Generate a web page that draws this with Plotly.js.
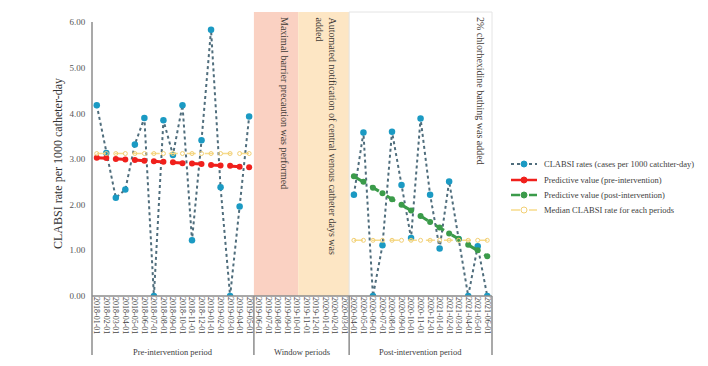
<!DOCTYPE html>
<html>
<head>
<meta charset="utf-8">
<script src="https://cdn.plot.ly/plotly-3.0.1.min.js"></script>
<style>
  html, body { margin: 0; padding: 0; background: #ffffff; }
  #chart { width: 708px; height: 366px; }
</style>
</head>
<body>
<div id="chart"></div>
<script>
// ---------- data ----------
const preMonths = ["2018-01-01","2018-02-01","2018-03-01","2018-04-01","2018-05-01","2018-06-01",
  "2018-07-01","2018-08-01","2018-09-01","2018-10-01","2018-11-01","2018-12-01",
  "2019-01-01","2019-02-01","2019-03-01","2019-04-01","2019-05-01"];
const windowMonths = ["2019-06-01","2019-07-01","2019-08-01","2019-09-01","2019-10-01",
  "2019-11-01","2019-12-01","2020-01-01","2020-02-01","2020-03-01"];
const postMonths = ["2020-04-01","2020-05-01","2020-06-01","2020-07-01","2020-08-01",
  "2020-09-01","2020-10-01","2020-11-01","2020-12-01","2021-01-01","2021-02-01",
  "2021-03-01","2021-04-01","2021-05-01","2021-06-01"];

const preRates  = [4.18, 3.13, 2.15, 2.33, 3.32, 3.90, 0.00, 3.85, 3.09, 4.18, 1.22, 3.41, 5.83, 2.38, 0.00, 1.96, 3.93];
const postRates = [2.22, 3.58, 0.00, 1.11, 3.60, 2.43, 1.27, 3.89, 2.22, 1.04, 2.51, 1.25, 0.00, 1.09, 0.00];

const prePredicted  = [3.03, 3.02, 3.00, 2.99, 2.98, 2.96, 2.95, 2.94, 2.93, 2.91, 2.90, 2.89, 2.87, 2.86, 2.85, 2.83, 2.82];
const postPredicted = [2.62, 2.50, 2.37, 2.25, 2.12, 2.00, 1.87, 1.75, 1.62, 1.50, 1.37, 1.25, 1.12, 1.00, 0.87];

const preMedian  = [3.12, 3.12, 3.12, 3.12, 3.12, 3.12, 3.12, 3.12, 3.12, 3.12, 3.12, 3.12, 3.12, 3.12, 3.12, 3.12, 3.12];
const postMedian = [1.22, 1.22, 1.22, 1.22, 1.22, 1.22, 1.22, 1.22, 1.22, 1.22, 1.22, 1.22, 1.22, 1.22, 1.22];

const yTickVals = [0, 1, 2, 3, 4, 5, 6];
const periodLabels = ["Pre-intervention period", "Window periods", "Post-intervention period"];
const legendLabels = ["CLABSI rates (cases per 1000 catchter-day)", "Predictive value (pre-intervention)",
  "Predictive value (post-intervention)", "Median CLABSI rate for each periods"];
const eventLabels = ["Maximal barrier precaution was performed",
  "Automated notification of central venous catheter days was<br>added",
  "2% chlorhexidine bathing was added"];

const allMonths = preMonths.concat(windowMonths, postMonths);

// ---------- styles ----------
const SERIF = "Liberation Serif, Times New Roman, serif";
const rateLine = {color: "#4f6d7c", width: 2, dash: "dot"};
const rateMarker = {color: "#1b9ac3", size: 6.5};
const redC = "#f0201c", greenC = "#3b9b4a", yellowC = "#f7dc8c";
const medMarker = {color: "#f2cf73", size: 4, symbol: "circle-open", line: {width: 1}};

const traces = [
  {x: preMonths, y: preRates, mode: "lines+markers", line: rateLine, marker: rateMarker, showlegend: false},
  {x: postMonths, y: postRates, mode: "lines+markers", line: rateLine, marker: rateMarker, showlegend: false},
  {x: preMonths, y: prePredicted, mode: "lines+markers", line: {color: redC, width: 3, dash: "10px,9px"},
   marker: {color: redC, size: 6}, showlegend: false},
  {x: postMonths, y: postPredicted, mode: "lines+markers", line: {color: greenC, width: 3, dash: "10px,9px"},
   marker: {color: greenC, size: 6}, showlegend: false},
  {x: preMonths, y: preMedian, mode: "lines+markers", line: {color: yellowC, width: 1.5, dash: "dash"},
   marker: medMarker, showlegend: false},
  {x: postMonths, y: postMedian, mode: "lines+markers", line: {color: yellowC, width: 1.5, dash: "dash"},
   marker: medMarker, showlegend: false}
];

// pixel helpers (plot area: x 92..492, y 12..296)
const px = v => (v - 92) / 400;
const py = v => (296 - v) / 284;
const axisC = "#8c8c8c";
const nCat = allMonths.length;

const shapes = [
  {type: "rect", xref: "x", yref: "paper", x0: 16.5, x1: 21.15, y0: 0, y1: 1, fillcolor: "#fad1c2", line: {width: 0}, layer: "below"},
  {type: "rect", xref: "x", yref: "paper", x0: 21.15, x1: 26.5, y0: 0, y1: 1, fillcolor: "#fde6c4", line: {width: 0}, layer: "below"},
  {type: "rect", xref: "paper", yref: "paper", x0: 27 / nCat, x1: 1, y0: 0, y1: 1, line: {color: "#e4e4e4", width: 1}, layer: "below"},
  {type: "line", xref: "paper", yref: "paper", x0: 0, x1: 0, y0: py(355), y1: 6 / 6.22, line: {color: axisC, width: 1.5}},
  {type: "line", xref: "paper", yref: "paper", x0: 0, x1: 1, y0: 0, y1: 0, line: {color: axisC, width: 1.5}},
  {type: "line", xref: "paper", yref: "paper", x0: 17 / nCat, x1: 17 / nCat, y0: py(355), y1: 0, line: {color: axisC, width: 1.5}},
  {type: "line", xref: "paper", yref: "paper", x0: 27 / nCat, x1: 27 / nCat, y0: py(355), y1: 0, line: {color: axisC, width: 1.5}},
  {type: "line", xref: "paper", yref: "paper", x0: 1, x1: 1, y0: py(355), y1: 0, line: {color: axisC, width: 1.5}}
];

const annotations = [
  {text: "CLABSI rate per 1000 catheter-day", textangle: -90, xref: "paper", yref: "paper",
   x: px(58), y: py(164), xanchor: "center", yanchor: "middle", showarrow: false,
   font: {family: SERIF, size: 12, color: "#333333"}},
  {text: periodLabels[0], xref: "paper", yref: "paper", x: 8.5 / nCat, y: py(352), showarrow: false,
   xanchor: "center", yanchor: "middle", font: {family: SERIF, size: 8.5, color: "#404040"}},
  {text: periodLabels[1], xref: "paper", yref: "paper", x: 22 / nCat, y: py(352), showarrow: false,
   xanchor: "center", yanchor: "middle", font: {family: SERIF, size: 8.5, color: "#404040"}},
  {text: periodLabels[2], xref: "paper", yref: "paper", x: 34.5 / nCat, y: py(352), showarrow: false,
   xanchor: "center", yanchor: "middle", font: {family: SERIF, size: 8.5, color: "#404040"}},
  {text: eventLabels[0], textangle: 90, xref: "paper", yref: "paper", x: px(285), y: py(15),
   xanchor: "center", yanchor: "top", showarrow: false, font: {family: SERIF, size: 10, color: "#3f3a36"}},
  {text: eventLabels[1], textangle: 90, align: "left", xref: "paper", yref: "paper", x: px(325.5), y: py(15),
   xanchor: "center", yanchor: "top", showarrow: false, font: {family: SERIF, size: 10, color: "#3f3a36"}},
  {text: eventLabels[2], textangle: 90, xref: "paper", yref: "paper", x: px(481), y: py(15),
   xanchor: "center", yanchor: "top", showarrow: false, font: {family: SERIF, size: 10, color: "#3f3a36"}}
];

// compact legend drawn with shapes and annotations
const legY = [164, 180, 195, 210];
const legStyles = [
  {c: rateLine.color, dash: "dot", w: 2, m: rateMarker.color, open: false},
  {c: redC, dash: "solid", w: 2.5, m: redC, open: false},
  {c: greenC, dash: "dash", w: 2.5, m: greenC, open: false},
  {c: yellowC, dash: "dash", w: 1.5, m: "#f2cf73", open: true}
];
legY.forEach((yy, i) => {
  const s = legStyles[i];
  shapes.push({type: "line", xref: "paper", yref: "paper", x0: px(511), x1: px(537), y0: py(yy), y1: py(yy),
    line: {color: s.c, width: s.w, dash: s.dash}});
  shapes.push({type: "circle", xref: "paper", yref: "paper", xsizemode: "pixel", ysizemode: "pixel",
    xanchor: px(524), yanchor: py(yy), x0: -3, x1: 3, y0: -3, y1: 3,
    fillcolor: s.open ? "#ffffff" : s.m, line: {color: s.m, width: 1}});
  annotations.push({text: legendLabels[i], xref: "paper", yref: "paper", x: px(542), y: py(yy),
    xanchor: "left", yanchor: "middle", showarrow: false,
    font: {family: SERIF, size: 8.5, color: "#404040"}});
});

const layout = {
  width: 708, height: 366,
  margin: {l: 92, r: 216, t: 12, b: 70, pad: 0},
  paper_bgcolor: "#ffffff", plot_bgcolor: "rgba(0,0,0,0)",
  showlegend: false,
  xaxis: {
    type: "category", categoryorder: "array", categoryarray: allMonths,
    range: [-0.5, nCat - 0.5], tickmode: "array", tickvals: allMonths, ticktext: allMonths,
    tickangle: 90, tickfont: {family: SERIF, size: 8, color: "#444444"},
    showgrid: false, zeroline: false, showline: false, ticks: "", fixedrange: true
  },
  yaxis: {
    range: [0, 6.22], tickmode: "array", tickvals: yTickVals, tickformat: ".2f",
    tickfont: {family: SERIF, size: 9, color: "#555555"},
    ticks: "outside", ticklen: 4, tickcolor: "rgba(0,0,0,0)",
    showgrid: false, zeroline: false, showline: false, fixedrange: true
  },
  shapes: shapes,
  annotations: annotations
};

Plotly.newPlot("chart", traces, layout, {displayModeBar: false, staticPlot: true});
</script>
</body>
</html>
